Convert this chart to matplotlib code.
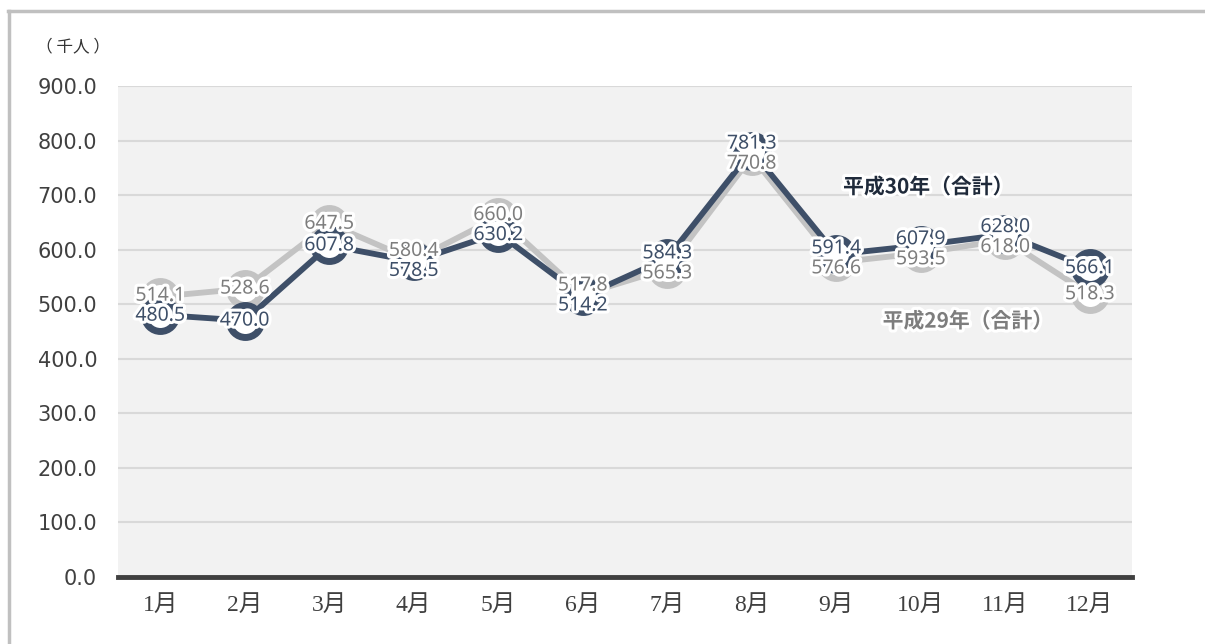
import matplotlib
matplotlib.use("Agg")
from matplotlib import pyplot as plt
from matplotlib import patheffects as pe
from matplotlib.lines import Line2D

months = ["1月", "2月", "3月", "4月", "5月", "6月", "7月", "8月", "9月", "10月", "11月", "12月"]
h30 = [480.5, 470.0, 607.8, 578.5, 630.2, 514.2, 584.3, 781.3, 591.4, 607.9, 628.0, 566.1]
h29 = [514.1, 528.6, 647.5, 580.4, 660.0, 517.8, 565.3, 770.8, 576.6, 593.5, 618.0, 518.3]
yticks = [0, 100, 200, 300, 400, 500, 600, 700, 800, 900]

dark = "#3e4f68"
gray_line = "#c3c3c3"
gray_text = "#7d7d7d"

plt.rcParams['font.family'] = ['Noto Sans', 'Noto Sans CJK JP', 'DejaVu Sans']

fig = plt.figure(figsize=(12.05, 6.44), dpi=100)
ax = fig.add_axes([118 / 1205, 1 - 577 / 644, (1132 - 118) / 1205, (577 - 86) / 644])
ax.set_facecolor("#f2f2f2")

x = [i + 0.5 for i in range(len(months))]

ax.plot(x, h29, color=gray_line, lw=4.2, marker="o", ms=23, mfc="white",
        mec=gray_line, mew=5, zorder=3, clip_on=False)
ax.plot(x, h30, color=dark, lw=4.2, marker="o", ms=23, mfc="white",
        mec=dark, mew=5, zorder=4, clip_on=False)

# push labels apart when the two values sit too close together
min_gap = 20 * 900 / 491
stroke = [pe.withStroke(linewidth=4.5, foreground="white")]
for xi, a, b in zip(x, h30, h29):
    ya, yb = a, b
    if abs(a - b) < min_gap:
        mid = (a + b) / 2
        if a >= b:
            ya, yb = mid + min_gap / 2, mid - min_gap / 2
        else:
            ya, yb = mid - min_gap / 2, mid + min_gap / 2
    ax.text(xi, yb, f"{b:.1f}", ha="center", va="center", fontsize=14,
            color=gray_text, path_effects=stroke, zorder=6)
    ax.text(xi, ya, f"{a:.1f}", ha="center", va="center", fontsize=14,
            color=dark, path_effects=stroke, zorder=7)

ax.text(9.59, 715, "平成30年（合計）", ha="center", va="center", fontsize=15,
        color="#1f2a3a", fontweight="bold", family=['Noto Sans CJK JP', 'DejaVu Sans'],
        path_effects=stroke, zorder=8)
ax.text(10.06, 469, "平成29年（合計）", ha="center", va="center", fontsize=15,
        color=gray_text, fontweight="bold", family=['Noto Sans CJK JP', 'DejaVu Sans'],
        path_effects=stroke, zorder=8)

ax.set_xlim(0, 12)
ax.set_ylim(0, 900)
ax.set_yticks(yticks)
ax.set_yticklabels([f"{v:.1f}" for v in yticks], fontsize=15, color="#404040",
                   family=['DejaVu Sans'])
ax.set_xticks(x)
ax.set_xticklabels(months, fontsize=17, color="#404040",
                   family=['Liberation Serif', 'Noto Sans CJK JP'])
ax.tick_params(axis="y", length=0, pad=15)
ax.tick_params(axis="x", length=0, pad=13)
ax.grid(axis="y", color="#d9d9d9", lw=1.5, zorder=0)
ax.set_axisbelow(True)
for s in ax.spines.values():
    s.set_visible(False)
ax.axhline(0, color="#404040", lw=3.5, zorder=5, clip_on=False)

fig.text(73 / 1205, 1 - 47 / 644, "（ 千人 ）", ha="center", va="center", fontsize=12,
         color="#333333", family=['Noto Sans CJK JP', 'DejaVu Sans'])

# outer frame (top and left edges)
fig.add_artist(Line2D([8 / 1205, 1], [1 - 11 / 644, 1 - 11 / 644], transform=fig.transFigure,
                      color="#c0c0c0", lw=2.5))
fig.add_artist(Line2D([9 / 1205, 9 / 1205], [0, 1 - 11 / 644], transform=fig.transFigure,
                      color="#c0c0c0", lw=2.5))

fig.savefig("out.png", dpi=100)
